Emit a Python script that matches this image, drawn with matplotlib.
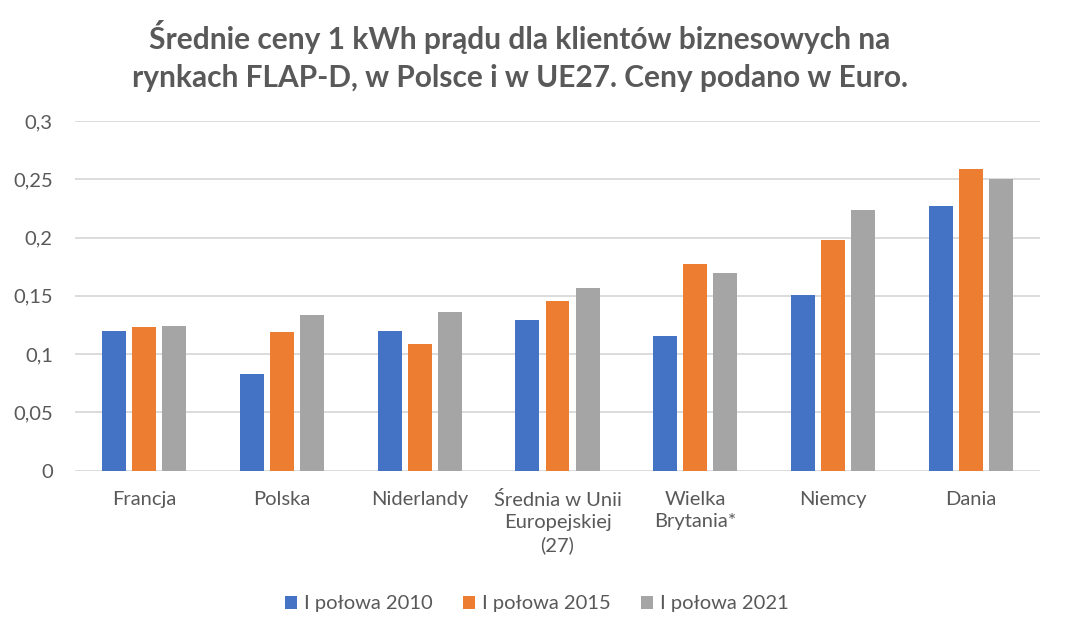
import matplotlib.pyplot as plt
import numpy as np
from matplotlib.ticker import FuncFormatter

categories = [
    "Francja",
    "Polska",
    "Niderlandy",
    "Średnia w Unii\nEuropejskiej\n(27)",
    "Wielka\nBrytania*",
    "Niemcy",
    "Dania",
]
series_names = ["I połowa 2010", "I połowa 2015", "I połowa 2021"]
h1_2010 = [0.120, 0.083, 0.120, 0.129, 0.1155, 0.1505, 0.227]
h1_2015 = [0.123, 0.119, 0.1087, 0.1455, 0.177, 0.198, 0.2588]
h1_2021 = [0.124, 0.1335, 0.136, 0.1567, 0.1695, 0.2235, 0.250]
y_ticks = [0, 0.05, 0.1, 0.15, 0.2, 0.25, 0.3]

colors = ["#4472C4", "#ED7D31", "#A5A5A5"]
text_color = "#595959"

plt.rcParams["font.family"] = ["Lato", "DejaVu Sans"]

fig = plt.figure(figsize=(10.65, 6.34), dpi=100)
ax = fig.add_axes([75 / 1065, 1 - 470.5 / 634, 965 / 1065, 349.5 / 634])

x = np.arange(len(categories))
pitch = 0.218
width = 0.174
for i, (vals, name) in enumerate(zip([h1_2010, h1_2015, h1_2021], series_names)):
    ax.bar(x + (i - 1) * pitch, vals, width=width, color=colors[i], label=name, zorder=3)

ax.set_xlim(-0.5, len(categories) - 0.5)
ax.set_ylim(0, 0.3)
ax.set_yticks(y_ticks)
ax.yaxis.set_major_formatter(FuncFormatter(lambda v, _: f"{v:g}".replace(".", ",")))
ax.set_xticks(x)
ax.set_xticklabels(categories, linespacing=1.33)

ax.grid(axis="y", color="#D9D9D9", linewidth=1.3, zorder=0)
for s in ax.spines.values():
    s.set_visible(False)
ax.tick_params(axis="both", length=0, labelsize=14.5, colors=text_color)
ax.tick_params(axis="y", pad=16)
ax.tick_params(axis="x", pad=15)

fig.text(
    520 / 1065,
    1 - 56 / 634,
    "Średnie ceny 1 kWh prądu dla klientów biznesowych na\nrynkach FLAP-D, w Polsce i w UE27. Ceny podano w Euro.",
    ha="center",
    va="center",
    fontsize=21.5,
    fontweight="bold",
    color=text_color,
    linespacing=1.4,
)

ax.legend(
    loc="center",
    bbox_to_anchor=(537 / 1065, 1 - 604 / 634),
    bbox_transform=fig.transFigure,
    ncol=3,
    frameon=False,
    fontsize=14.5,
    labelcolor=text_color,
    handlelength=0.6,
    handleheight=0.6,
    handletextpad=0.35,
    columnspacing=1.5,
)

fig.savefig("out.png", dpi=100, facecolor="white")
